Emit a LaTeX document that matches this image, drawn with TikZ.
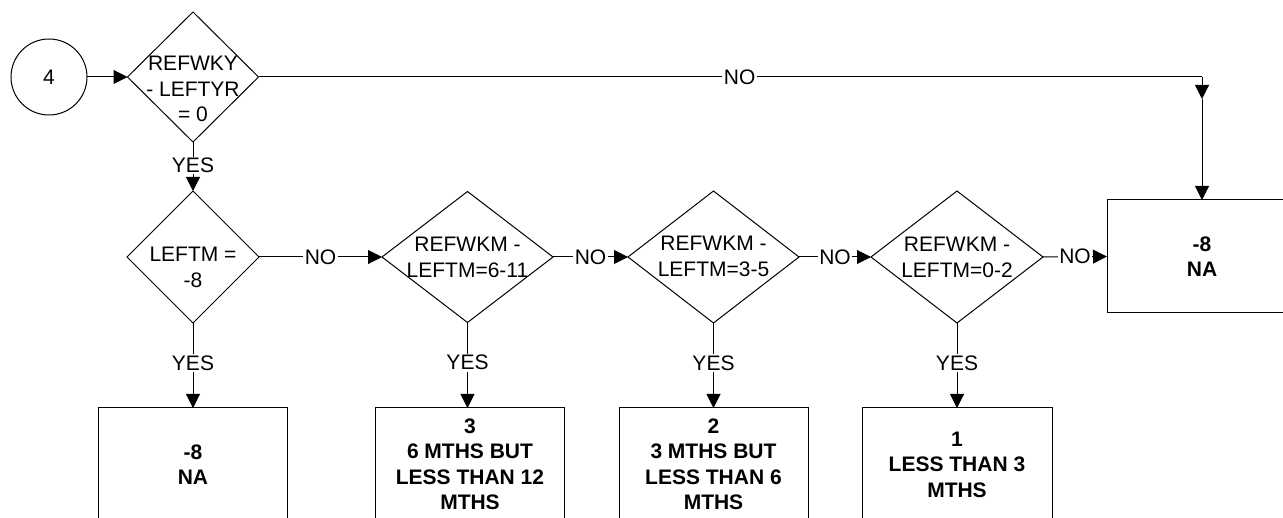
\documentclass[tikz,border=0pt]{standalone}
\usepackage{fontspec}
\setmainfont{Liberation Sans}
\usetikzlibrary{arrows.meta,shapes.geometric}
\begin{document}
\begin{tikzpicture}[x=1pt,y=-1pt,
  base/.style={draw=black, line width=1pt, outer sep=0pt, inner sep=0pt},
  dia/.style={base, diamond},
  box/.style={base, rectangle, minimum width=189pt, minimum height=113pt,
    font=\bfseries\fontsize{21}{25.5}\selectfont, align=center},
  txt/.style={font=\fontsize{21}{25.5}\selectfont, align=center, inner sep=0pt},
  conn/.style={line width=1pt, -{Triangle[length=14pt,width=14pt]}},
  plain/.style={line width=1pt},
  lbl/.style={fill=white, font=\fontsize{21}{25.5}\selectfont, inner sep=1.5pt}]
\useasboundingbox (0,0) rectangle (1283,518);
\clip (0,0) rectangle (1283,518);
\fill[white] (0,0) rectangle (1283,518);

\node[base, circle, minimum size=76pt, font=\fontsize{21}{25.5}\selectfont] (c4) at (49,77) {4};

\node[dia, minimum width=131pt, minimum height=130pt] (d1) at (193,77) {};
\node[txt] (t1) at (193,89) {REFWKY\\- LEFTYR\\= 0};

\node[dia, minimum width=132pt, minimum height=132pt] (d2) at (193,257) {};
\node[txt] (t2) at (193,267.5) {LEFTM =\\-8};

\node[dia, minimum width=171pt, minimum height=131pt] (d3) at (467.5,257) {};
\node[txt] (t3) at (467.5,257.5) {REFWKM -\\LEFTM=6-11};

\node[dia, minimum width=171pt, minimum height=132pt] (d4) at (713.5,257) {};
\node[txt] (t4) at (713.5,256.5) {REFWKM -\\LEFTM=3-5};

\node[dia, minimum width=172pt, minimum height=132pt] (d5) at (957,257) {};
\node[txt] (t5) at (957,257.5) {REFWKM -\\LEFTM=0-2};

\node[box, minimum width=190pt] (na) at (1202,256.5) {-8\\NA};

\node[box] (b1) at (193,464.5) {-8\\NA};
\node[box] (b2) at (470,464.5) {3\\6 MTHS BUT\\LESS THAN 12\\MTHS};
\node[box] (b3) at (713.5,464.5) {2\\3 MTHS BUT\\LESS THAN 6\\MTHS};
\node[box, minimum width=190pt] (b4) at (957,464.5) {1\\LESS THAN 3\\MTHS};

% connectors
\draw[conn] (c4.east) -- (d1.west);

\coordinate (k) at (na.north |- d1.east);
\coordinate (m) at (1202,99);
\draw[plain] (d1.east) -- node[lbl, pos=0.51] {NO} (k);
\draw[conn] (k) -- (m);
\draw[conn] (m) -- (na.north);

\draw[conn] (d1.south) -- node[lbl, pos=0.48] {YES} (d2.north);

\draw[conn] (d2.east) -- node[lbl] {NO} (d3.west);
\draw[conn] (d3.east) -- node[lbl] {NO} (d4.west);
\draw[conn] (d4.east) -- node[lbl] {NO} (d5.west);
\draw[conn] (d5.east) -- node[lbl] {NO} (na.west);

\draw[conn] (d2.south) -- node[lbl, pos=0.47] {YES} (d2.south |- b1.north);
\draw[conn] (d3.south) -- node[lbl, pos=0.47] {YES} (d3.south |- b2.north);
\draw[conn] (d4.south) -- node[lbl, pos=0.47] {YES} (d4.south |- b3.north);
\draw[conn] (d5.south) -- node[lbl, pos=0.47] {YES} (d5.south |- b4.north);
\end{tikzpicture}
\end{document}
